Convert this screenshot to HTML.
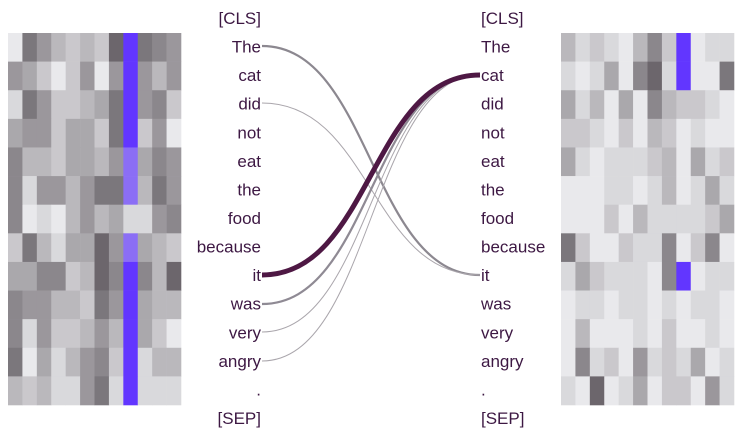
<!DOCTYPE html>
<html><head><meta charset="utf-8"><style>
body{margin:0;background:#fff;width:737px;height:436px;overflow:hidden}
svg text{font-family:"Liberation Sans",sans-serif;font-size:17px;fill:#3d1843}
</style></head><body>
<svg id="s" width="737" height="436" xmlns="http://www.w3.org/2000/svg">
<g id="cells"></g>
<g fill="none">
<path d="M262,46 C371,46 371,275 480,275" stroke="#8c8890" stroke-width="2.2"/>
<path d="M262,103 C371,103 371,275 480,275" stroke="#aaa6ac" stroke-width="1"/>
<path d="M262,304 C371,304 371,75 480,75" stroke="#8f8a94" stroke-width="2.2"/>
<path d="M262,332 C371,332 371,75 480,75" stroke="#aaa6ac" stroke-width="1"/>
<path d="M262,361 C371,361 371,75 480,75" stroke="#aaa6ac" stroke-width="1"/>
<path d="M262,275 C371,275 371,75 480,75" stroke="#4e1844" stroke-width="5"/>
</g>
<g id="lt" text-anchor="end"></g>
<g id="rt"></g>
</svg>
<script>
var toks=["[CLS]","The","cat","did","not","eat","the","food","because","it","was","very","angry",".","[SEP]"];
var lt=document.getElementById("lt"),rt=document.getElementById("rt"),NS="http://www.w3.org/2000/svg";
toks.forEach(function(t,i){var y=18+i*28.57+6;
var a=document.createElementNS(NS,"text");a.setAttribute("x",261);a.setAttribute("y",y);a.textContent=t;lt.appendChild(a);
var b=document.createElementNS(NS,"text");b.setAttribute("x",481);b.setAttribute("y",y);b.textContent=t;rt.appendChild(b);});
var L=["9 2 4 6 7 6 7 1 P 2 3 4","4 5 7 9 7 4 9 4 P 4 6 4","8 2 4 7 7 6 5 2 P 4 3 7","5 4 4 7 5 5 7 2 P 7 4 9","3 6 6 7 5 5 6 4 Q 5 3 4","3 8 4 4 6 4 2 2 Q 6 2 4","3 9 8 9 6 4 6 5 8 8 4 3","7 2 6 8 5 5 1 4 Q 5 6 7","5 5 3 3 7 6 1 3 P 3 6 1","3 4 4 6 6 7 2 4 P 5 6 6","3 8 4 7 7 6 4 6 P 5 7 9","2 9 5 8 6 4 3 7 P 8 6 6","6 7 6 8 8 4 2 8 P 8 8 8"];
var R=["6 8 7 8 9 6 3 7 P 9 8 8","8 9 8 5 9 3 1 8 P 9 9 2","5 8 6 9 5 9 3 6 7 7 8 9","7 7 8 9 7 9 6 7 9 8 9 9","5 8 9 8 8 8 7 6 9 5 8 7","9 9 9 8 8 9 8 6 9 8 5 8","9 9 9 7 9 6 8 8 8 8 7 5","2 7 9 9 7 8 8 3 9 7 3 9","8 5 7 8 8 8 9 3 P 9 8 8","9 8 8 9 8 8 9 8 9 8 8 9","9 6 9 9 9 8 9 7 9 9 8 9","9 3 8 7 9 4 8 7 8 5 9 8","8 9 1 9 8 5 9 7 7 9 4 8"];
function col(v){if(v=="P")return"#6236ff";if(v=="Q")return"#8b6ef5";var k=+v/9;
var r=Math.round(92+(233-92)*k),g=Math.round(86+(233-86)*k),b=Math.round(92+(236-92)*k);return"rgb("+r+","+g+","+b+")";}
var cg=document.getElementById("cells");
function draw(M,x0){var w=173/12,h=372/13;M.forEach(function(row,i){row.split(" ").forEach(function(v,j){
var r=document.createElementNS(NS,"rect");r.setAttribute("x",x0+j*w);r.setAttribute("y",33+i*h);r.setAttribute("width",w+0.3);r.setAttribute("height",h+0.3);r.setAttribute("fill",col(v));cg.appendChild(r);});});}
draw(L,8);draw(R,561);
</script>
</body></html>
